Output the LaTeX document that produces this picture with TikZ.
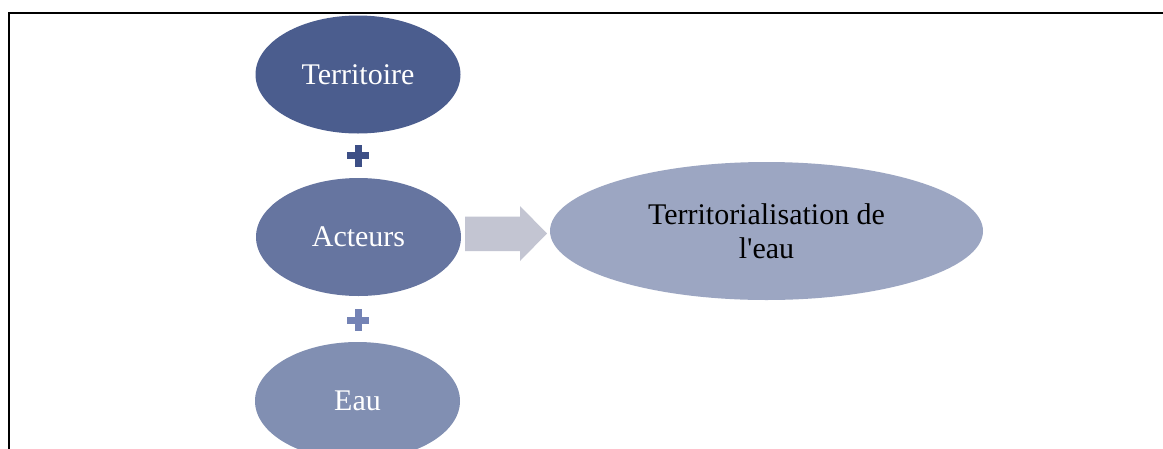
\documentclass[tikz,border=0pt]{standalone}
\usepackage{fontspec}
\setmainfont{Liberation Serif}[Ligatures=TeXOff]
\usetikzlibrary{shapes.geometric,calc}
\definecolor{cTerr}{HTML}{4B5D8E}
\definecolor{cAct}{HTML}{6675A0}
\definecolor{cEau}{HTML}{818FB2}
\definecolor{cBig}{HTML}{9CA6C2}
\definecolor{cArrow}{HTML}{C3C5D2}
\definecolor{cPlusA}{HTML}{3D4F86}
\definecolor{cPlusB}{HTML}{7483B5}
\tikzset{
  oval/.style={ellipse, inner sep=0pt, text=white, font=\fontsize{30}{34}\selectfont,
    minimum width=205pt, minimum height=118pt},
  bigoval/.style={ellipse, inner sep=0pt, fill=cBig, text=black, align=center,
    font=\fontsize{30}{34}\selectfont, minimum width=433pt, minimum height=138pt},
}
\newcommand{\plussign}[2]{%
  \fill[#2] ($(#1)+(-11pt,-3.5pt)$) rectangle ($(#1)+(11pt,3.5pt)$);
  \fill[#2] ($(#1)+(-3.5pt,-11pt)$) rectangle ($(#1)+(3.5pt,11pt)$);}
\begin{document}
\begin{tikzpicture}[x=1pt,y=-1pt]
\useasboundingbox (0,0) rectangle (1163,448);
\fill[white] (0,0) rectangle (1163,448);
% frame
\draw[line width=2.4pt] (9,452) -- (9,13) -- (1168,13);
% ellipses
\node[oval, fill=cTerr] (terr) at (358,74.5) {Territoire};
\node[oval, fill=cAct] (act) at (358.5,237) {Acteurs};
\node[oval, fill=cEau] (eau) at (357.5,401) {Eau};
\node[bigoval] (terreau) at (766.5,231) {Territorialisation de\\l'eau};
% plus signs
\coordinate (p1) at (358,155.5);
\coordinate (p2) at (358,320);
\plussign{p1}{cPlusA}
\plussign{p2}{cPlusB}
% block arrow
\fill[cArrow] (465,216.5) -- (520,216.5) -- (520,206) -- (547,233.5) -- (520,261) -- (520,251) -- (465,251) -- cycle;
\end{tikzpicture}
\end{document}
